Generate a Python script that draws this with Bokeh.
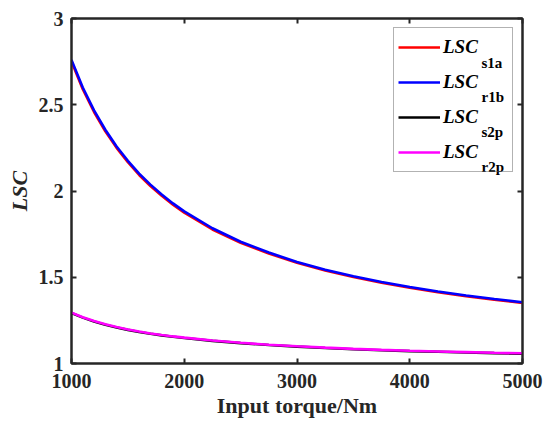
from bokeh.plotting import figure
from bokeh.models import (Range1d, LinearAxis, FixedTicker, NumeralTickFormatter,
                          Legend, LegendItem, Label)
from bokeh.core.properties import value
from bokeh.embed import file_html
from bokeh.resources import INLINE

# ---- data ----
torque = [1000, 1100, 1200, 1300, 1400, 1500, 1600, 1700, 1800, 1900, 2000,
          2250, 2500, 2750, 3000, 3250, 3500, 3750, 4000, 4250, 4500, 4750, 5000]
lsc_s1a = [2.750, 2.590, 2.458, 2.346, 2.250, 2.167, 2.093, 2.029, 1.972, 1.921, 1.875,
           1.777, 1.700, 1.637, 1.584, 1.539, 1.501, 1.468, 1.439, 1.413, 1.390, 1.370, 1.351]
lsc_r1b = [2.760, 2.600, 2.467, 2.355, 2.258, 2.175, 2.101, 2.037, 1.980, 1.928, 1.882,
           1.784, 1.706, 1.643, 1.589, 1.544, 1.506, 1.472, 1.443, 1.417, 1.394, 1.374, 1.355]
lsc_s2p = [1.293, 1.266, 1.244, 1.225, 1.209, 1.195, 1.183, 1.172, 1.163, 1.155, 1.148,
           1.131, 1.118, 1.107, 1.098, 1.090, 1.083, 1.077, 1.072, 1.068, 1.064, 1.060, 1.057]
lsc_r2p = [1.295, 1.268, 1.246, 1.227, 1.211, 1.197, 1.185, 1.174, 1.165, 1.157, 1.150,
           1.133, 1.120, 1.109, 1.100, 1.092, 1.085, 1.079, 1.074, 1.070, 1.066, 1.062, 1.059]

series_names = ["LSC", "LSC", "LSC", "LSC"]
series_subs = ["s1a", "r1b", "s2p", "r2p"]
series_colors = ["#FF0000", "#0000FF", "#000000", "#FF00FF"]

x_ticks = [1000, 2000, 3000, 4000, 5000]
y_ticks = [1, 1.5, 2, 2.5, 3]
x_label = "Input torque/Nm"
y_label = "LSC"

FONT = "Liberation Serif"
AX = "#262626"

p = figure(width=544, height=422, output_backend="svg", toolbar_location=None,
           x_range=Range1d(1000, 5000), y_range=Range1d(1, 3),
           min_border_left=71, min_border_right=22, min_border_top=18, min_border_bottom=59,
           background_fill_color="white", border_fill_color="white")
p.outline_line_color = AX
p.outline_line_width = 2
p.xgrid.visible = False
p.ygrid.visible = False

def style_axis(ax, ticks, show_labels):
    ax.ticker = FixedTicker(ticks=ticks)
    ax.axis_line_color = AX
    ax.axis_line_width = 2
    ax.major_tick_line_color = AX
    ax.major_tick_line_width = 2
    ax.major_tick_in = 5
    ax.major_tick_out = 0
    ax.minor_tick_line_color = None
    ax.major_label_text_font = FONT
    ax.major_label_text_font_style = "bold"
    ax.major_label_text_color = AX if show_labels else None
    ax.major_label_text_font_size = "20px" if show_labels else "0px"
    ax.axis_label_text_font = FONT
    ax.axis_label_text_font_size = "22px"
    ax.axis_label_text_color = AX

xa = p.xaxis[0]
ya = p.yaxis[0]
style_axis(xa, x_ticks, True)
style_axis(ya, y_ticks, True)
xa.axis_label = x_label
xa.axis_label_text_font_style = "bold"
xa.major_label_standoff = 10
xa.axis_label_standoff = 2
ya.axis_label = y_label
ya.axis_label_text_font_style = "bold italic"
ya.major_label_standoff = 8
ya.axis_label_standoff = 4
ya.formatter = NumeralTickFormatter(format="0.[0]")

top = LinearAxis()
style_axis(top, x_ticks, False)
top.major_label_standoff = 0
p.add_layout(top, "above")
right = LinearAxis()
style_axis(right, y_ticks, False)
right.major_label_standoff = 0
p.add_layout(right, "right")

renderers = []
for ys, c in zip([lsc_s1a, lsc_r1b, lsc_s2p, lsc_r2p], series_colors):
    r = p.line(torque, ys, line_color=c, line_width=2.6)
    renderers.append(r)

items = [LegendItem(label=value(n), renderers=[r]) for n, r in zip(series_names, renderers)]
legend = Legend(items=items, location=(322, 191), orientation="vertical",
                padding=4, margin=0, spacing=5, glyph_width=42, glyph_height=30,
                label_height=30, label_width=65, label_standoff=3,
                label_text_font=FONT, label_text_font_style="bold italic",
                label_text_font_size="19px", label_text_color="black",
                border_line_color="#666666", border_line_width=1,
                background_fill_color=None)
p.add_layout(legend, "center")

# subscripts for the legend labels (screen units relative to the frame)
for i, s in enumerate(series_subs):
    p.add_layout(Label(x=410, y=301.0 - 34.8 * i, x_units="screen", y_units="screen",
                       text=s, text_font=FONT, text_font_style="bold",
                       text_font_size="15px", text_color="black",
                       text_baseline="alphabetic", text_align="left",
                       level="overlay"))

open("out.html", "w").write(file_html(p, INLINE))
